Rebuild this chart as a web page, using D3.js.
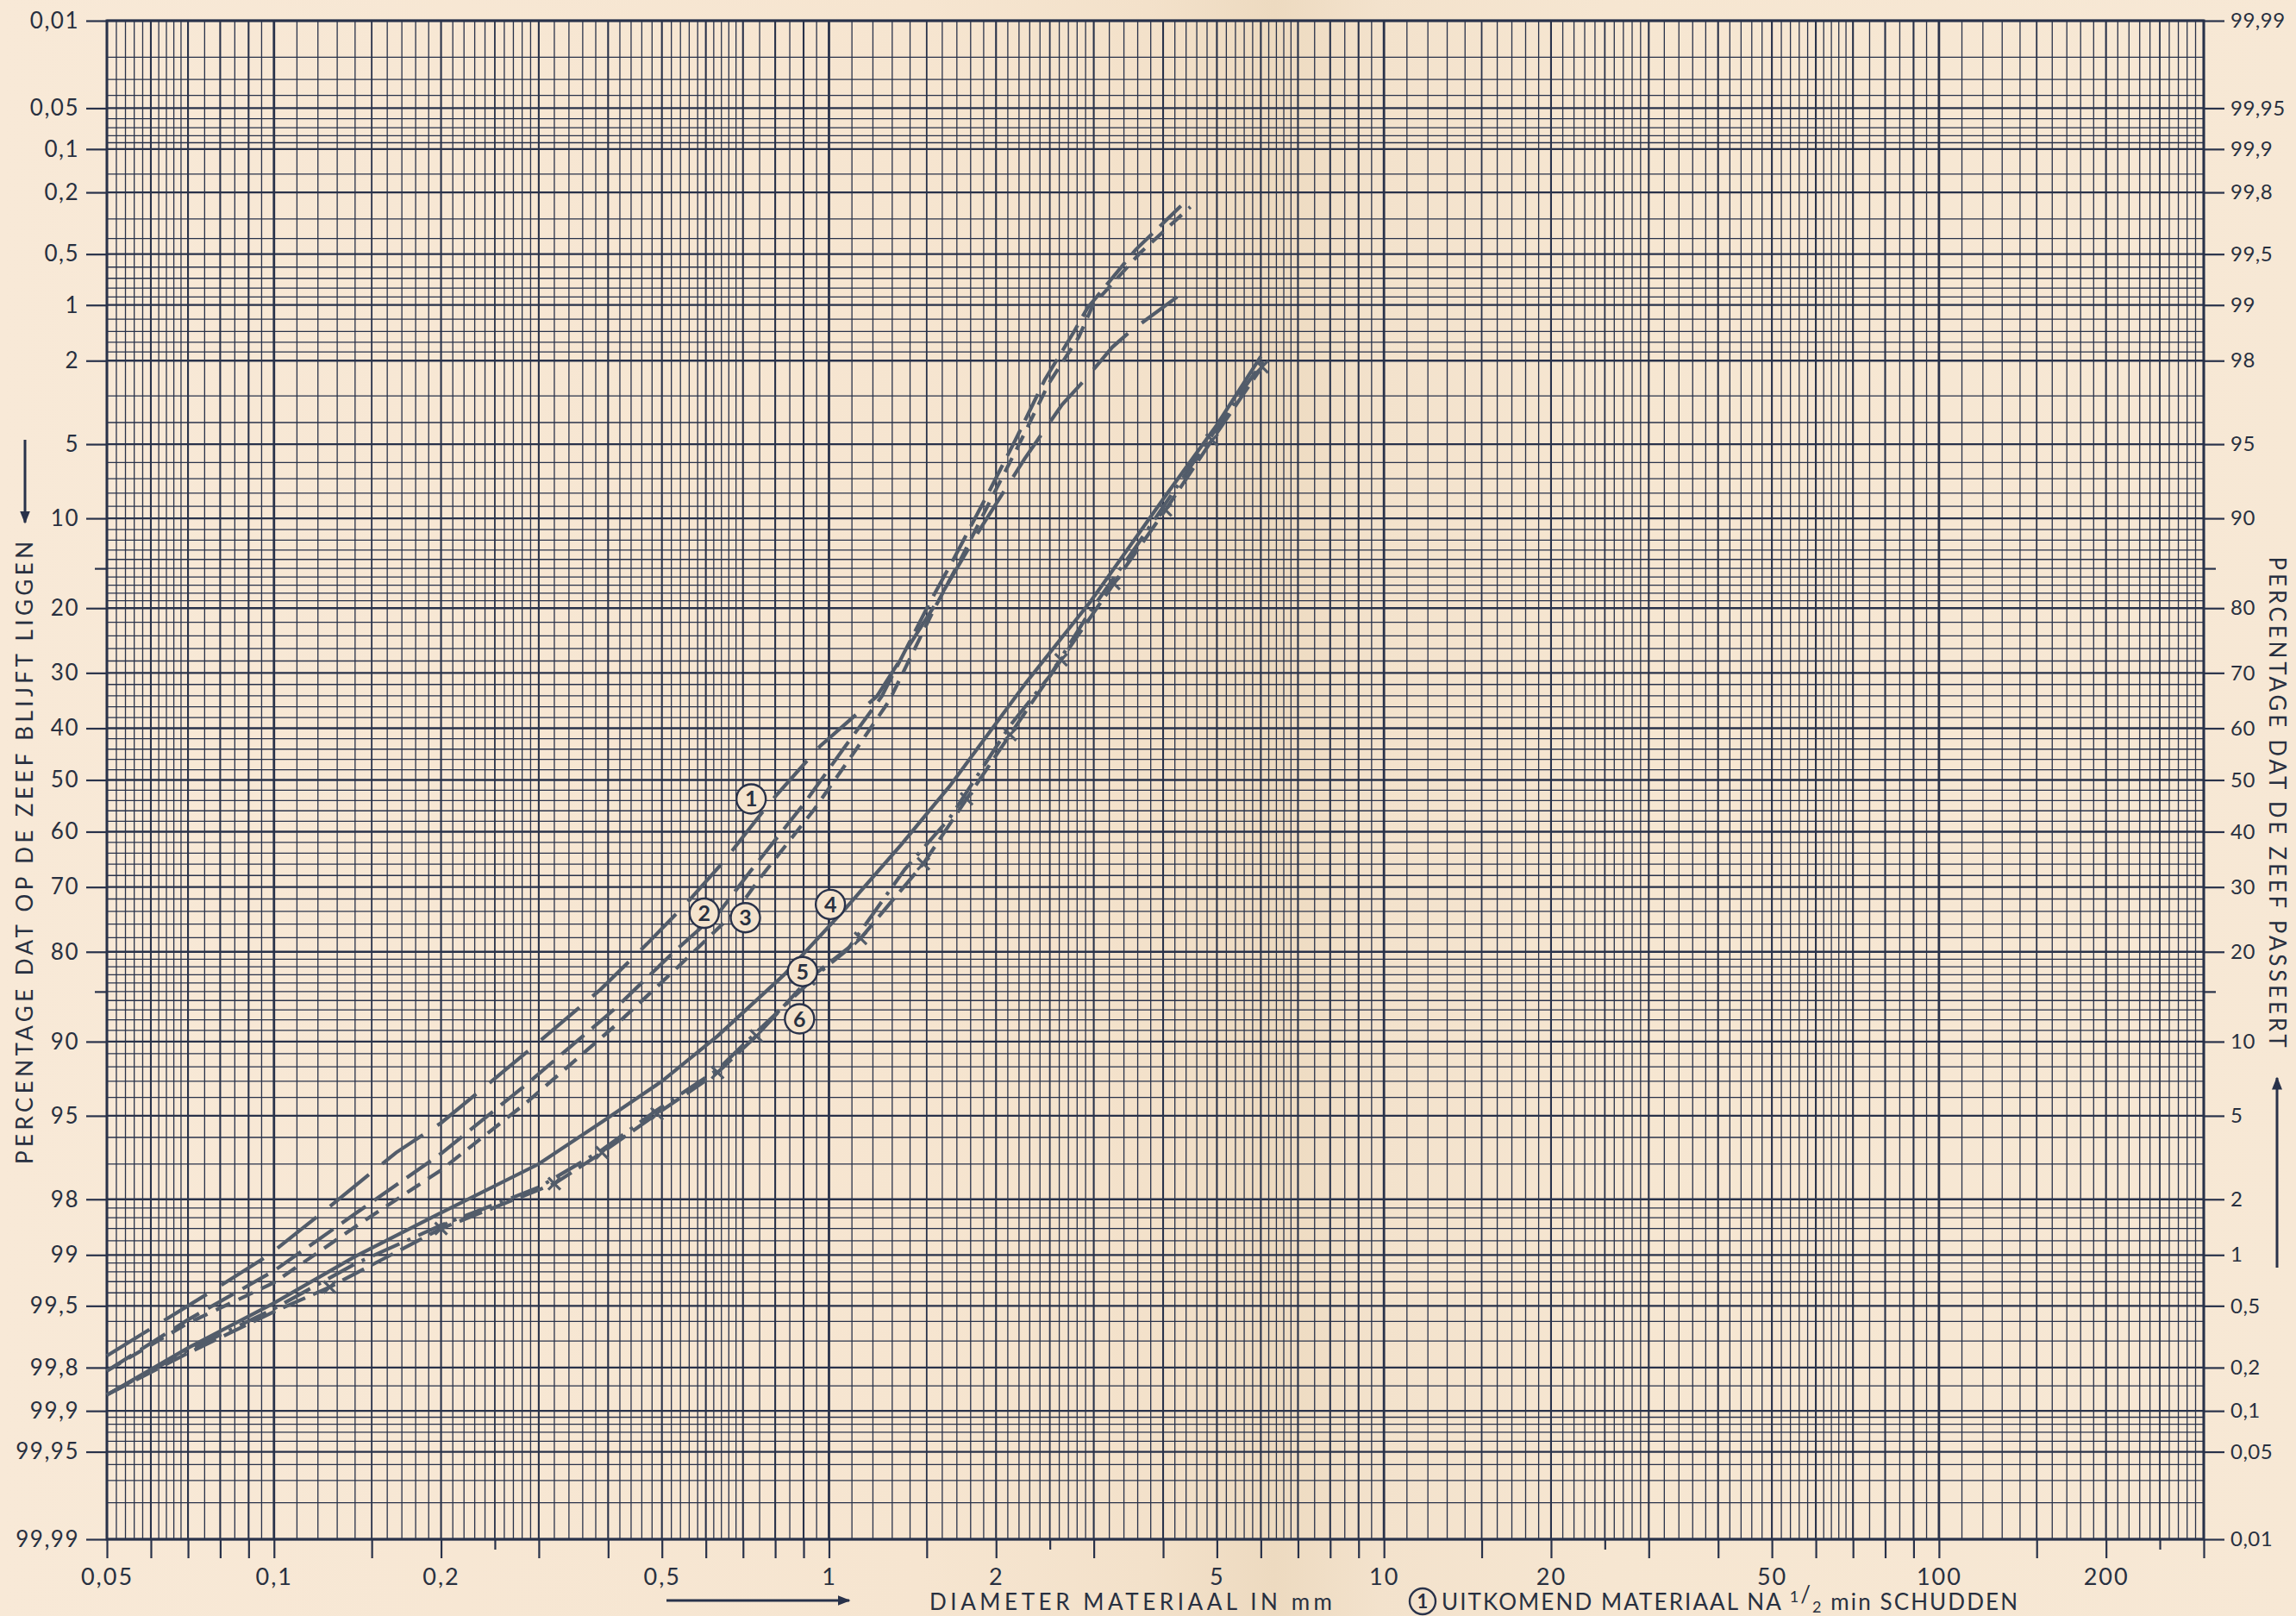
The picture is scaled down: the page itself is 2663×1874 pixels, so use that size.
<!DOCTYPE html>
<html lang="nl">
<head>
<meta charset="UTF-8">
<title>Zeefkrommen</title>
<script src="https://cdn.jsdelivr.net/npm/d3@7"></script>
<style>
  body { margin: 0; background: #f6e6d2; }
  svg { display: block; }
  text { font-family: Lato, 'DejaVu Sans', sans-serif; fill: #283040; }
</style>
</head>
<body>
<script>
// curves: diameter (mm) and percentage passing the sieve
const c1Size = [0.05, 0.077, 0.098, 0.125, 0.166, 0.2, 0.285, 0.387, 0.47, 0.554, 0.645, 0.784, 0.964, 1.22, 1.57, 1.88, 2.25, 2.63, 2.89, 3.24, 3.49, 4.24];
const c1Pass = [0.24, 0.61, 1.0, 1.8, 3.4, 4.65, 9.1, 15.2, 21.1, 27.3, 34.4, 45.7, 56.6, 65.9, 81.0, 89.2, 94.2, 96.7, 97.5, 98.3, 98.6, 99.1];

const c2Size = [0.05, 0.07, 0.1, 0.14, 0.2, 0.285, 0.411, 0.524, 0.637, 0.72, 0.902, 1.056, 1.245, 1.513, 1.679, 1.954, 2.181, 2.448, 2.766, 2.922, 3.57, 4.39];
const c2Pass = [0.19, 0.41, 0.81, 1.68, 3.36, 6.8, 13.1, 19.9, 26.1, 32.6, 45.4, 55.7, 65.9, 80.5, 86.1, 92.3, 95.35, 97.5, 98.6, 98.96, 99.53, 99.77];

const c3Size = [0.05, 0.07, 0.1, 0.14, 0.2, 0.285, 0.411, 0.524, 0.681, 0.755, 0.941, 1.102, 1.284, 1.55, 1.72, 1.99, 2.22, 2.49, 2.82, 2.99, 3.64, 4.48];
const c3Pass = [0.19, 0.39, 0.69, 1.43, 2.8, 5.7, 11.4, 17.4, 26.1, 31.8, 44.3, 54.9, 65.1, 80.0, 85.8, 92.1, 95.2, 97.4, 98.5, 99.0, 99.51, 99.75];

const c4Size = [0.05, 0.07, 0.1, 0.14, 0.2, 0.3, 0.39, 0.5, 0.63, 0.83, 1.07, 1.35, 1.65, 2.26, 2.96, 4.04, 5.0, 6.0];
const c4Pass = [0.13, 0.27, 0.52, 0.98, 1.7, 3.0, 4.7, 7.0, 10.5, 17.0, 26.4, 37.6, 48.8, 68.2, 80.9, 91.8, 95.9, 98.1];

const c5Size = [0.05, 0.07, 0.1, 0.14, 0.2, 0.3, 0.39, 0.49, 0.63, 0.76, 0.97, 1.08, 1.37, 1.65, 2.12, 2.5, 2.94, 3.57, 4.37, 5.57, 6.07];
const c5Pass = [0.13, 0.26, 0.48, 0.89, 1.46, 2.3, 3.5, 5.3, 7.8, 11.4, 17.5, 20.3, 33.1, 42.6, 60.5, 69.5, 79.3, 87.3, 93.2, 97.2, 98.0];

const c6Size = [0.05, 0.07, 0.1, 0.126, 0.2, 0.32, 0.39, 0.49, 0.63, 0.74, 0.92, 1.14, 1.48, 1.77, 2.12, 2.62, 3.26, 4.04, 4.9, 6.03];
const c6Pass = [0.13, 0.25, 0.46, 0.65, 1.4, 2.4, 3.4, 5.1, 7.6, 10.5, 16.5, 21.9, 34.1, 46.3, 58.8, 72.2, 83.2, 90.7, 95.2, 97.85];

// circled curve numbers
const labelNames = ['1', '2', '3', '4', '5', '6'];
const labelSize = [0.724, 0.596, 0.707, 1.006, 0.896, 0.885];
const labelPass = [46.3, 25.7, 25.0, 27.1, 17.4, 12.1];

// axis labels
const xLabels = [0.05, 0.1, 0.2, 0.5, 1, 2, 5, 10, 20, 50, 100, 200];
const xTicks = [0.05, 0.06, 0.07, 0.08, 0.09, 0.1, 0.15, 0.2, 0.3, 0.4, 0.5, 0.6, 0.7, 0.8, 0.9,
  1, 1.5, 2, 3, 4, 5, 6, 7, 8, 9, 10, 15, 20, 30, 40, 50, 60, 70, 80, 90, 100, 150, 200, 300];
const xShortTicks = [0.25, 2.5, 25, 250];
const leftLabels = [0.01, 0.05, 0.1, 0.2, 0.5, 1, 2, 5, 10, 20, 30, 40, 50, 60, 70, 80, 90, 95, 98, 99, 99.5, 99.8, 99.9, 99.95, 99.99];
const rightLabels = [99.99, 99.95, 99.9, 99.8, 99.5, 99, 98, 95, 90, 80, 70, 60, 50, 40, 30, 20, 10, 5, 2, 1, 0.5, 0.2, 0.1, 0.05, 0.01];
const shortTicks = [15, 85];

// grid of the probability paper
const gridSteps = [[1, 3, 0.1], [3, 7, 0.2], [7, 10, 0.5]];
const gridDecades = [0.01, 0.1, 1, 10, 100];
const probGridHalf = [0.01, 0.02, 0.03, 0.04, 0.05, 0.06, 0.07, 0.08, 0.09, 0.1, 0.15, 0.2, 0.3, 0.4, 0.5, 0.6, 0.7, 0.8, 0.9,
  1, 1.2, 1.4, 1.6, 1.8, 2, 3, 4, 5, 6, 7, 8, 9, 10, 11, 12, 13, 14, 15, 16, 17, 18, 19,
  20, 22, 24, 26, 28, 30, 32, 34, 36, 38, 40, 42, 44, 46, 48, 50];

// inverse normal (Acklam)
function probit(p) {
  const a = [-3.969683028665376e+01, 2.209460984245205e+02, -2.759285104469687e+02, 1.383577518672690e+02, -3.066479806614716e+01, 2.506628277459239e+00];
  const b = [-5.447609879822406e+01, 1.615858368580409e+02, -1.556989798598866e+02, 6.680131188771972e+01, -1.328068155288572e+01];
  const c = [-7.784894002430293e-03, -3.223964580411365e-01, -2.400758277161838e+00, -2.549732539343734e+00, 4.374664141464968e+00, 2.938163982698783e+00];
  const d = [7.784695709041462e-03, 3.224671290700398e-01, 2.445134137142996e+00, 3.754408661907416e+00];
  const pl = 0.02425;
  if (p < pl) {
    const q = Math.sqrt(-2 * Math.log(p));
    return (((((c[0] * q + c[1]) * q + c[2]) * q + c[3]) * q + c[4]) * q + c[5]) / ((((d[0] * q + d[1]) * q + d[2]) * q + d[3]) * q + 1);
  }
  if (p > 1 - pl) {
    const q = Math.sqrt(-2 * Math.log(1 - p));
    return -(((((c[0] * q + c[1]) * q + c[2]) * q + c[3]) * q + c[4]) * q + c[5]) / ((((d[0] * q + d[1]) * q + d[2]) * q + d[3]) * q + 1);
  }
  const q = p - 0.5, r = q * q;
  return (((((a[0] * r + a[1]) * r + a[2]) * r + a[3]) * r + a[4]) * r + a[5]) * q / (((((b[0] * r + b[1]) * r + b[2]) * r + b[3]) * r + b[4]) * r + 1);
}

const fmt = v => String(v).replace('.', ',');

const W = 2663, H = 1874;
const plotL = 124, plotR = 2556, plotT = 24, plotB = 1785;
const ink = '#29324a';
const lineInk = '#525c6a';

const x = d3.scaleLog().domain([0.05, 300]).range([plotL, plotR]);
const zScale = d3.scaleLinear().domain([probit(0.9999), probit(0.0001)]).range([plotT, plotB]);
const y = p => zScale(probit(p / 100));

const svg = d3.select('body').append('svg')
  .attr('width', W)
  .attr('height', H);

// paper
const defs = svg.append('defs');
const grad = defs.append('linearGradient')
  .attr('id', 'paper')
  .attr('x1', 0).attr('x2', 1).attr('y1', 0).attr('y2', 0);
[[0, '#f8e9d7'], [0.4, '#f6e5d0'], [0.5, '#f3e1ca'], [0.555, '#eddac0'], [0.6, '#f3e2cc'], [0.7, '#f6e6d1'], [1, '#f7e8d5']]
  .forEach(s => grad.append('stop').attr('offset', s[0]).attr('stop-color', s[1]));
svg.append('rect').attr('width', W).attr('height', H).attr('fill', 'url(#paper)');

// vertical grid
const vGrid = [];
gridDecades.forEach(dec => {
  gridSteps.forEach(([from, to, step]) => {
    for (let m = from; m < to - 1e-9; m += step) {
      const v = +(m * dec).toPrecision(6);
      if (v >= 0.05 - 1e-9 && v <= 300 + 1e-9) vGrid.push({ v, m: +m.toFixed(2) });
    }
  });
});
vGrid.push({ v: 300, m: 3 });

svg.append('g').selectAll('line')
  .data(vGrid)
  .enter().append('line')
  .attr('x1', d => x(d.v)).attr('x2', d => x(d.v))
  .attr('y1', plotT).attr('y2', plotB)
  .attr('stroke', ink)
  .attr('stroke-width', d => d.m === 1 ? 2.8 : (Number.isInteger(d.m) ? 2.1 : (d.m === 1.5 || d.m === 2.5 ? 1.8 : 1.3)));

// horizontal grid
const probGrid = probGridHalf.concat(probGridHalf.filter(v => v !== 50).map(v => +(100 - v).toFixed(2)));
svg.append('g').selectAll('line')
  .data(probGrid)
  .enter().append('line')
  .attr('x1', plotL).attr('x2', plotR)
  .attr('y1', d => y(100 - d)).attr('y2', d => y(100 - d))
  .attr('stroke', ink)
  .attr('stroke-width', d => leftLabels.includes(d) ? 2.3 : 1.3);

// frame
svg.append('rect')
  .attr('x', plotL).attr('y', plotT)
  .attr('width', plotR - plotL).attr('height', plotB - plotT)
  .attr('fill', 'none').attr('stroke', ink).attr('stroke-width', 3);

// axes
function styleAxis(size, spacing) {
  return g => {
    g.select('.domain').remove();
    g.selectAll('.tick line').attr('stroke', ink).attr('stroke-width', 2.2);
    g.selectAll('.tick text')
      .attr('fill', '#283040')
      .style('font-family', 'Lato, sans-serif')
      .style('font-size', size + 'px')
      .style('letter-spacing', spacing + 'px');
  };
}

svg.append('g')
  .attr('transform', `translate(0,${plotB})`)
  .call(d3.axisBottom(x).tickValues(xTicks).tickSize(22).tickPadding(12).tickSizeOuter(0)
    .tickFormat(d => xLabels.includes(d) ? fmt(d) : ''))
  .call(styleAxis(27, 2));

svg.append('g')
  .attr('transform', `translate(0,${plotB})`)
  .call(d3.axisBottom(x).tickValues(xShortTicks).tickSize(12).tickSizeOuter(0).tickFormat(''))
  .call(styleAxis(27, 2));

svg.append('g')
  .attr('transform', `translate(${plotL},0)`)
  .call(d3.axisLeft(zScale).tickValues(leftLabels.map(r => probit((100 - r) / 100)))
    .tickSize(24).tickPadding(8).tickSizeOuter(0)
    .tickFormat((d, i) => fmt(leftLabels[i])))
  .call(styleAxis(26, 1.5));

svg.append('g')
  .attr('transform', `translate(${plotL},0)`)
  .call(d3.axisLeft(zScale).tickValues(shortTicks.map(r => probit((100 - r) / 100)))
    .tickSize(14).tickSizeOuter(0).tickFormat(''))
  .call(styleAxis(26, 1.5));

svg.append('g')
  .attr('transform', `translate(${plotR},0)`)
  .call(d3.axisRight(zScale).tickValues(rightLabels.map(p => probit(p / 100)))
    .tickSize(24).tickPadding(7).tickSizeOuter(0)
    .tickFormat((d, i) => fmt(rightLabels[i])))
  .call(styleAxis(24, 0.5));

svg.append('g')
  .attr('transform', `translate(${plotR},0)`)
  .call(d3.axisRight(zScale).tickValues(shortTicks.map(p => probit(p / 100)))
    .tickSize(14).tickSizeOuter(0).tickFormat(''))
  .call(styleAxis(24, 0.5));

// curves
const series = [
  { size: c1Size, pass: c1Pass, dash: '58,20' },
  { size: c2Size, pass: c2Pass, dash: '34,12' },
  { size: c3Size, pass: c3Pass, dash: '18,11' },
  { size: c4Size, pass: c4Pass, dash: null },
  { size: c5Size, pass: c5Pass, dash: '34,10,4,10' },
  { size: c6Size, pass: c6Pass, dash: '28,10', cross: true }
];

const line = d3.line()
  .x(d => x(d[0]))
  .y(d => y(d[1]));

series.forEach(s => {
  const pts = s.size.map((v, i) => [v, s.pass[i]]);
  svg.append('path')
    .datum(pts)
    .attr('d', line)
    .attr('fill', 'none')
    .attr('stroke', lineInk)
    .attr('stroke-width', 4.2)
    .attr('stroke-dasharray', s.dash);
  if (s.cross) {
    svg.append('g').selectAll('path')
      .data(pts.slice(3))
      .enter().append('path')
      .attr('d', d => {
        const cx = x(d[0]), cy = y(d[1]), r = 7;
        return `M${cx - r},${cy - r}L${cx + r},${cy + r}M${cx - r},${cy + r}L${cx + r},${cy - r}`;
      })
      .attr('stroke', lineInk)
      .attr('stroke-width', 3.2);
  }
});

// circled numbers
const labels = svg.append('g').selectAll('g')
  .data(labelNames)
  .enter().append('g')
  .attr('transform', (d, i) => `translate(${x(labelSize[i])},${y(labelPass[i])})`);
labels.append('circle')
  .attr('r', 17)
  .attr('fill', '#f4e3cd')
  .attr('stroke', ink)
  .attr('stroke-width', 2.4);
labels.append('text')
  .attr('text-anchor', 'middle')
  .attr('dy', '0.36em')
  .style('font-size', '25px')
  .style('font-weight', 'bold')
  .text(d => d);

// axis titles
svg.append('text')
  .attr('transform', 'translate(38,989) rotate(-90)')
  .attr('text-anchor', 'middle')
  .attr('textLength', 722)
  .attr('lengthAdjust', 'spacing')
  .style('font-size', '26px')
  .text('PERCENTAGE DAT OP DE ZEEF BLIJFT LIGGEN');

svg.append('text')
  .attr('transform', 'translate(2632,930) rotate(90)')
  .attr('text-anchor', 'middle')
  .attr('textLength', 569)
  .attr('lengthAdjust', 'spacing')
  .style('font-size', '26px')
  .text('PERCENTAGE DAT DE ZEEF PASSEERT');

svg.append('text')
  .attr('x', 1078).attr('y', 1867)
  .attr('textLength', 467)
  .attr('lengthAdjust', 'spacing')
  .style('font-size', '26px')
  .text('DIAMETER MATERIAAL IN mm');

// legend note
svg.append('circle')
  .attr('cx', 1650).attr('cy', 1857).attr('r', 15)
  .attr('fill', 'none').attr('stroke', ink).attr('stroke-width', 2.4);
svg.append('text')
  .attr('x', 1650).attr('y', 1865)
  .attr('text-anchor', 'middle')
  .style('font-size', '22px')
  .style('font-weight', 'bold')
  .text('1');
const note = svg.append('text')
  .attr('x', 1672).attr('y', 1867)
  .attr('textLength', 668)
  .attr('lengthAdjust', 'spacing')
  .style('font-size', '26px');
note.append('tspan').text('UITKOMEND MATERIAAL NA ');
note.append('tspan').attr('dy', -9).style('font-size', '18px').text('1');
note.append('tspan').attr('dy', 0).text('/');
note.append('tspan').attr('dy', 12).style('font-size', '18px').text('2');
note.append('tspan').attr('dy', -3).text(' min SCHUDDEN');

// arrows
const arrowHead = defs.append('marker')
  .attr('id', 'head')
  .attr('viewBox', '0 0 10 10')
  .attr('refX', 9).attr('refY', 5)
  .attr('markerWidth', 5).attr('markerHeight', 5)
  .attr('orient', 'auto');
arrowHead.append('path').attr('d', 'M0,1L10,5L0,9Z').attr('fill', ink);

[[29, 510, 29, 606], [2641, 1470, 2641, 1250], [773, 1856, 985, 1856]].forEach(a => {
  svg.append('line')
    .attr('x1', a[0]).attr('y1', a[1]).attr('x2', a[2]).attr('y2', a[3])
    .attr('stroke', ink).attr('stroke-width', 3)
    .attr('marker-end', 'url(#head)');
});
</script>
</body>
</html>
